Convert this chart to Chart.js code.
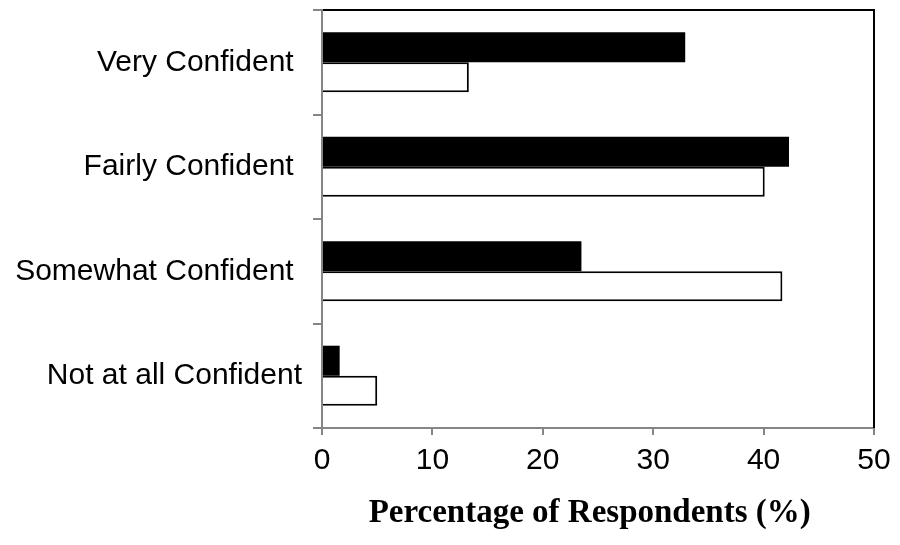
<!DOCTYPE html>
<html>
<head>
<meta charset="utf-8">
<script src="https://cdn.jsdelivr.net/npm/chart.js@4.4.1/dist/chart.umd.min.js"></script>
<style>
  html, body { margin: 0; padding: 0; background: #fff; }
  #wrap { width: 900px; height: 545px; }
</style>
</head>
<body>
<div id="wrap"><canvas id="c" width="900" height="545"></canvas></div>
<script>
const categories = ["Very Confident ", "Fairly Confident ", "Somewhat Confident ", "Not at all Confident"];
const blackSeries = [32.9, 42.3, 23.5, 1.6];
const whiteSeries = [13.3, 40.1, 41.7, 5.0];
const xTicks = [0, 10, 20, 30, 40, 50];
const xTitle = 'Percentage of Respondents (%)  ';

const frame = {
  id: 'frame',
  afterDraw(chart) {
    const a = chart.chartArea, ctx = chart.ctx;
    ctx.save();
    ctx.strokeStyle = '#000';
    ctx.lineWidth = 2;
    ctx.beginPath();
    ctx.moveTo(a.left + 1, a.top);
    ctx.lineTo(a.right, a.top);
    ctx.lineTo(a.right, a.bottom);
    ctx.stroke();
    ctx.restore();
  }
};

const sansFont = '"Liberation Sans", Arial, sans-serif';

new Chart(document.getElementById('c'), {
  type: 'bar',
  data: {
    labels: categories,
    datasets: [
      { label: 'Series 1', data: blackSeries, backgroundColor: '#000', borderWidth: 0,
        categoryPercentage: 0.575, barPercentage: 1.0 },
      { label: 'Series 2', data: whiteSeries, backgroundColor: '#fff', borderColor: '#000', borderWidth: 2,
        categoryPercentage: 0.575, barPercentage: 1.0 }
    ]
  },
  options: {
    indexAxis: 'y',
    responsive: false,
    animation: false,
    layout: { padding: { left: 0, right: 26, top: 10, bottom: 0 } },
    plugins: { legend: { display: false }, tooltip: { enabled: false } },
    scales: {
      x: {
        min: 0, max: 50,
        afterBuildTicks(s) { s.ticks = xTicks.map(v => ({ value: v })); },
        afterFit(s) { s.height = 117; s.paddingLeft = 0; s.paddingRight = 0; },
        grid: { drawOnChartArea: false, drawTicks: true, tickLength: 7, color: '#868686', lineWidth: 2 },
        border: { display: true, color: '#868686', width: 2 },
        ticks: { color: '#000', padding: 8, maxRotation: 0, font: { family: sansFont, size: 30 } },
        title: { display: true, text: xTitle, color: '#000',
          font: { family: '"Liberation Serif", "Times New Roman", serif', size: 33, weight: 'bold' },
          padding: { top: 0, bottom: 12 } }
      },
      y: {
        afterFit(s) { s.width = 322; s.paddingTop = 0; s.paddingBottom = 0; },
        grid: { drawOnChartArea: false, drawTicks: true, tickLength: 9, color: '#868686', lineWidth: 2, offset: true },
        border: { display: true, color: '#868686', width: 2 },
        ticks: { color: '#000', padding: 11, font: { family: sansFont, size: 30 } }
      }
    }
  },
  plugins: [frame]
});
</script>
</body>
</html>
